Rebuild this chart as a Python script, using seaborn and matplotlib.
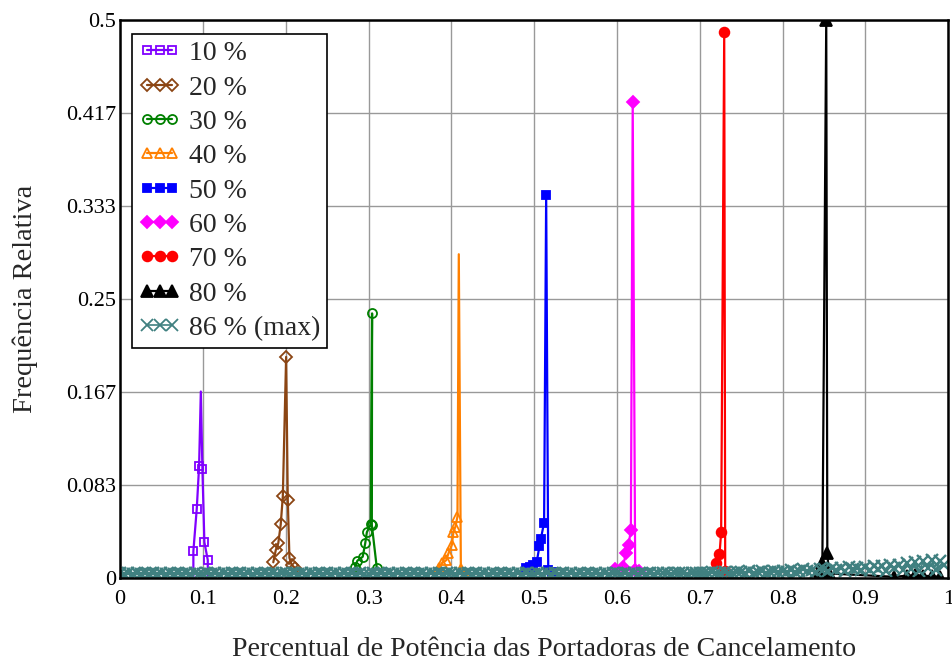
import numpy as np
import matplotlib
matplotlib.use("Agg")
import matplotlib.pyplot as plt
from matplotlib.lines import Line2D
import seaborn as sns

# --------------------------------------------------------------------------
# values (x = share of cancelling-carrier power)
LABELS = ["10 %", "20 %", "30 %", "40 %", "50 %", "60 %", "70 %", "80 %", "86 % (max)"]

X10 = [0.0885, 0.0885, 0.0926, 0.0954, 0.0975, 0.0994, 0.1018, 0.1059, 0.1059]
Y10 = [0.0, 0.024, 0.062, 0.100, 0.167, 0.098, 0.032, 0.016, 0.0]

X20 = [0.185, 0.188, 0.191, 0.194, 0.1965, 0.2005, 0.2025, 0.2045, 0.207, 0.211]
Y20 = [0.014, 0.025, 0.031, 0.048, 0.073, 0.198, 0.070, 0.018, 0.012, 0.009]

X30 = [0.2838, 0.2866, 0.293, 0.296, 0.298, 0.3027, 0.3043, 0.304, 0.310]
Y30 = [0.010, 0.0155, 0.019, 0.031, 0.041, 0.048, 0.237, 0.0475, 0.009]

X40 = [0.3845, 0.3885, 0.394, 0.3965, 0.4006, 0.4026, 0.405, 0.4074, 0.409, 0.4115, 0.4167]
Y40 = [0.0087, 0.013, 0.016, 0.022, 0.0296, 0.0415, 0.046, 0.055, 0.290, 0.008, 0.003]

X50 = [0.490, 0.495, 0.499, 0.5032, 0.5064, 0.508, 0.512, 0.5145, 0.517, 0.521]
Y50 = [0.0087, 0.010, 0.0116, 0.0146, 0.0287, 0.0347, 0.0496, 0.343, 0.007, 0.005]

X60 = [0.598, 0.607, 0.611, 0.614, 0.6168, 0.619, 0.622, 0.626]
Y60 = [0.0078, 0.0096, 0.0227, 0.0296, 0.043, 0.426, 0.007, 0.006]

X70 = [0.7198, 0.7238, 0.7258, 0.7295, 0.7307]
Y70 = [0.0137, 0.021, 0.041, 0.489, 0.006]

X80 = [0.845, 0.848, 0.8527, 0.854, 0.856, 0.935, 0.95, 0.96, 0.97, 0.98, 0.99]
Y80 = [0.006, 0.013, 0.500, 0.022, 0.004, 0.001, 0.002, 0.0025, 0.002, 0.0015, 0.001]

# 86 % (max): dense histogram, bins of 0.005 over the whole axis
BIN_STEP = 0.005
Y86 = [
    .004, .0035, .004, .0035, .004, .0035, .004, .0035, .004, .0035, .004, .0035, .004, .0035, .004, .0035, .004, .0035, .004, .0035,
    .0035, .004, .0035, .004, .0035, .004, .0035, .004, .0035, .004, .0035, .004, .0035, .004, .0035, .004, .0035, .004, .0035, .004,
    .004, .0035, .004, .0035, .004, .0035, .004, .0035, .004, .0035, .004, .0035, .004, .0035, .004, .0035, .004, .0035, .004, .0035,
    .0035, .004, .0035, .004, .0035, .004, .0035, .004, .0035, .004, .0035, .004, .0035, .004, .0035, .004, .0035, .004, .0035, .004,
    .004, .0035, .004, .0035, .004, .0035, .004, .0035, .004, .0035, .004, .0035, .004, .0035, .004, .0035, .004, .0035, .004, .0035,
    .0035, .004, .0035, .004, .0035, .004, .0035, .004, .0035, .004, .0035, .004, .0035, .004, .0035, .004, .0035, .004, .0035, .004,
    .004, .0035, .004, .0035, .004, .0035, .004, .0035, .004, .0035, .004, .004, .0045, .0035, .004, .004, .0045, .0035, .004, .0045,
    .0045, .004, .0045, .005, .004, .0045, .005, .0045, .004, .005,
    .005, .0045, .006, .0045, .005, .006, .0045, .005, .006, .005,
    .006, .005, .007, .005, .006, .008, .006, .007, .005, .008,
    .008, .006, .009, .007, .009, .006, .010, .008, .009, .007,
    .010, .007, .011, .008, .011, .006, .012, .009, .012, .007,
    .013, .008, .014, .006, .015, .009, .016, .007, .015, .012,
]
X86 = list(np.round(np.arange(len(Y86)) * BIN_STEP, 3))

X_TICKS = [0, 0.1, 0.2, 0.3, 0.4, 0.5, 0.6, 0.7, 0.8, 0.9, 1.0]
X_TICKLABELS = ["0", "0.1", "0.2", "0.3", "0.4", "0.5", "0.6", "0.7", "0.8", "0.9", "1"]
Y_TICKS = [0, 1 / 12, 2 / 12, 3 / 12, 4 / 12, 5 / 12, 6 / 12]
Y_TICKLABELS = ["0", "0.083", "0.167", "0.25", "0.333", "0.417", "0.5"]
# --------------------------------------------------------------------------

sns.set_style("white")
plt.rcParams["font.family"] = ["Liberation Serif", "DejaVu Serif"]

# (x, y, colour, marker, filled, marker size, points without marker)
series = [
    (X10, Y10, "#8000ff", "s", False, 6, [0, 4, 8]),
    (X20, Y20, "#8b4513", "D", False, 6, []),
    (X30, Y30, "#008000", "o", False, 6.5, []),
    (X40, Y40, "#ff8000", "^", False, 7, [8]),
    (X50, Y50, "#0000ff", "s", True, 6, []),
    (X60, Y60, "#ff00ff", "D", True, 6.5, []),
    (X70, Y70, "#ff0000", "o", True, 7, []),
    (X80, Y80, "#000000", "^", True, 8, []),
    (X86, Y86, "#408080", "x", False, 8, []),
]

fig, ax = plt.subplots(figsize=(9.53, 6.62), dpi=100)
fig.subplots_adjust(left=0.126, right=0.995, top=0.970, bottom=0.127)

handles = []
for x, y, c, m, filled, ms, skip in series:
    every = [i for i in range(len(x)) if i not in skip]
    lw = 1.2 if m == "x" else 1.6
    mew = 1.7 if m == "x" else 1.3
    sns.lineplot(x=x, y=y, sort=False, estimator=None, ax=ax, legend=False,
                 color=c, linewidth=lw, marker=m, markersize=ms,
                 markerfacecolor=c if filled else "none", markeredgecolor=c,
                 markeredgewidth=mew, markevery=every)
    handles.append(Line2D([], [], color=c, linewidth=lw, marker=m, markersize=ms,
                          markerfacecolor=c if filled else "none",
                          markeredgecolor=c, markeredgewidth=1.3))

ax.set_xlim(0, 1)
ax.set_ylim(0, 0.5)
ax.set_xticks(X_TICKS)
ax.set_xticklabels(X_TICKLABELS)
ax.set_yticks(Y_TICKS)
ax.set_yticklabels(Y_TICKLABELS)
ax.tick_params(axis="both", length=0, labelsize=16, colors="black")
ax.tick_params(axis="x", pad=9)
ax.tick_params(axis="y", pad=3)
ax.grid(True, color="#999999", linewidth=1.0)
ax.set_axisbelow(True)
for sp in ax.spines.values():
    sp.set_color("black")
    sp.set_linewidth(1.8)

ax.set_xlabel("Percentual de Potência das Portadoras de Cancelamento", fontsize=20.1)
ax.xaxis.set_label_coords(0.512, -0.105)
ax.set_ylabel("Frequência Relativa", fontsize=20.5, labelpad=20)

leg = ax.legend(handles, LABELS, numpoints=3, loc="upper left",
                bbox_to_anchor=(0.0145, 0.975), borderaxespad=0, frameon=True,
                fancybox=False, edgecolor="black", framealpha=1, fontsize=20,
                handlelength=1.5, handletextpad=0.3, labelspacing=0.32,
                borderpad=0.25)
leg.get_frame().set_linewidth(1.2)

plt.savefig("out.png", dpi=100)
plt.close()
